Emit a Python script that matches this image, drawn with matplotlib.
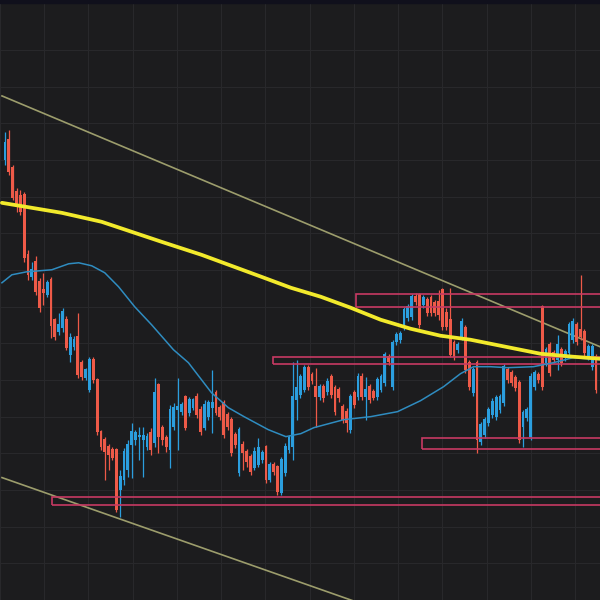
import numpy as np
import matplotlib.pyplot as plt
from matplotlib.patches import Rectangle

# candle data (open, close, high, low), one entry per bar
opens = [440, 460, 432, 408, 404, 405, 345, 323, 338, 318, 310, 305, 320, 280, 268, 272, 280, 245, 253, 263,
         237, 222, 210, 240, 220, 168, 160, 153, 150, 150, 110, 120, 130, 155, 160, 163, 160, 153, 167, 157,
         215, 172, 162, 150, 173, 190, 188, 203, 187, 192, 203, 190, 172, 183, 192, 207, 192, 197, 185, 180,
         165, 127, 155, 148, 143, 132, 135, 140, 153, 120, 135, 133, 107, 127, 150, 153, 200, 205, 210, 232,
         225, 213, 203, 213, 208, 223, 212, 210, 193, 188, 170, 207, 203, 223, 203, 213, 208, 203, 210, 217,
         243, 213, 258, 260, 273, 282, 283, 303, 305, 295, 300, 302, 297, 298, 310, 287, 280, 257, 250, 263,
         272, 237, 207, 237, 158, 165, 177, 185, 183, 190, 197, 230, 227, 222, 217, 173, 182, 163, 213, 225,
         293, 237, 255, 247, 240, 250, 242, 247, 260, 275, 270, 268, 243, 233, 243]
closes = [457, 428, 402, 393, 388, 342, 325, 330, 308, 292, 307, 317, 274, 263, 275, 288, 252, 262, 260, 225,
          223, 230, 240, 220, 168, 153, 148, 145, 142, 90, 123, 148, 155, 168, 167, 164, 164, 163, 150, 207,
          163, 160, 153, 190, 192, 193, 195, 172, 200, 200, 185, 168, 195, 197, 197, 187, 183, 165, 173, 147,
          155, 170, 147, 138, 128, 148, 152, 147, 120, 135, 128, 108, 140, 153, 162, 203, 212, 223, 232, 213,
          219, 203, 213, 202, 218, 205, 188, 202, 180, 177, 203, 195, 223, 203, 210, 200, 202, 220, 223, 245,
          238, 257, 265, 266, 290, 293, 303, 298, 275, 302, 287, 287, 287, 285, 273, 273, 245, 243, 255, 278,
          230, 213, 230, 160, 175, 180, 190, 198, 202, 203, 233, 220, 217, 212, 160, 187, 190, 223, 227, 220,
          213, 250, 227, 240, 255, 237, 248, 275, 278, 258, 263, 247, 253, 253, 210]
highs = [468, 470, 435, 412, 410, 408, 350, 338, 344, 322, 327, 320, 323, 282, 287, 292, 284, 267, 264, 287,
         240, 232, 243, 243, 222, 170, 163, 156, 153, 152, 130, 152, 160, 177, 170, 173, 173, 167, 172, 222,
         217, 175, 165, 195, 197, 222, 198, 205, 203, 202, 207, 194, 200, 200, 230, 210, 195, 200, 188, 183,
         168, 173, 159, 151, 146, 153, 162, 150, 155, 138, 138, 135, 143, 157, 165, 238, 240, 226, 235, 235,
         228, 232, 216, 216, 222, 226, 215, 213, 196, 192, 206, 210, 227, 227, 223, 216, 211, 223, 226, 248,
         246, 260, 268, 269, 293, 296, 306, 307, 307, 305, 303, 305, 300, 310, 312, 292, 312, 260, 258, 282,
         275, 240, 233, 240, 178, 183, 193, 202, 205, 206, 236, 233, 230, 225, 220, 190, 193, 227, 230, 228,
         295, 253, 258, 250, 265, 253, 251, 278, 282, 278, 325, 271, 256, 256, 246]
lows = [435, 425, 400, 388, 385, 338, 320, 320, 305, 288, 295, 303, 262, 260, 265, 268, 250, 238, 250, 222,
        220, 220, 208, 217, 165, 150, 120, 130, 140, 88, 83, 115, 123, 122, 155, 140, 123, 150, 145, 153,
        147, 155, 148, 132, 170, 150, 185, 170, 184, 190, 182, 165, 170, 180, 167, 185, 180, 162, 170, 144,
        152, 124, 130, 133, 125, 130, 133, 137, 117, 118, 125, 105, 105, 124, 147, 140, 180, 202, 208, 210,
        216, 173, 200, 198, 205, 202, 185, 198, 177, 168, 167, 192, 200, 200, 180, 197, 200, 200, 208, 214,
        235, 210, 255, 257, 270, 279, 280, 295, 272, 292, 284, 284, 284, 280, 270, 270, 243, 240, 247, 260,
        227, 210, 204, 147, 155, 162, 174, 182, 180, 187, 194, 217, 214, 209, 157, 153, 179, 160, 210, 217,
        210, 234, 224, 237, 230, 234, 239, 244, 257, 255, 260, 244, 240, 230, 207]

# slow moving average (yellow), read at sample bars
slow_ma_x = [-0.8, 7, 14.8, 25.2, 33, 40.8, 51.2, 59, 66.8, 74.5, 82.3, 90.1, 97.9, 105.7, 113.5, 121.3,
             129.1, 139.5, 148, 155.1]
slow_ma_y = [397, 392, 387, 378, 368, 358, 345, 334, 323, 312, 303, 292, 280, 271, 264, 260, 254, 246, 243, 241]

# fast moving average (blue)
fast_ma_x = [-0.8, 1.8, 5.7, 12.2, 16.6, 19.2, 22.6, 26, 29.6, 33.8, 38.2, 43.9, 47.8, 53.8, 58.2, 62.3,
             68.6, 73.2, 77.1, 80.5, 88.3, 95.3, 102.3, 108.3, 114.3, 118.7, 122.1, 126.5, 130.9, 137.7,
             142.9, 148, 155.1]
fast_ma_y = [317, 325, 328, 330, 336, 337, 334, 327, 313, 293, 275, 250, 237, 207, 192, 183, 170, 163, 166,
             172, 180, 183, 188, 199, 213, 226, 233, 233, 232, 233, 237, 242, 240]

# trend channel
upper_channel_x = [-0.78, 155.06]
upper_channel_y = [504, 253]
lower_channel_x = [-0.78, 155.06]
lower_channel_y = [122, -88]

# horizontal zones: start bar, bottom, top
zone_start = [91.4, 69.9, 108.6, 12.2]
zone_low = [293, 236, 151, 95]
zone_high = [306, 243, 162, 103]

bg = '#1c1c1e'
red = '#ee5a48'
blue = '#2b9ede'

fig = plt.figure(figsize=(6, 6), dpi=100)
fig.patch.set_facecolor(bg)
ax = fig.add_axes([0, 0, 1, 1])
ax.set_facecolor(bg)

n = len(opens)
x = np.arange(n)
o = np.array(opens)
c = np.array(closes)
colors = [blue if cc >= oo else red for oo, cc in zip(o, c)]

ax.vlines(x, lows, highs, colors=colors, linewidth=0.9, zorder=3)
ax.bar(x, np.abs(c - o) + 1.0, bottom=np.minimum(o, c) - 0.5, width=0.74, color=colors, linewidth=0, zorder=3)

ax.plot(upper_channel_x, upper_channel_y, color='#9c9d6c', linewidth=1.2, zorder=2)
ax.plot(lower_channel_x, lower_channel_y, color='#9c9d6c', linewidth=1.2, zorder=2)

for s, lo, hi in zip(zone_start, zone_low, zone_high):
    ax.add_patch(Rectangle((s, lo), 170 - s, hi - lo, fill=False, edgecolor='#c73a63', linewidth=1.2, zorder=4))

ax.plot(fast_ma_x, fast_ma_y, color='#2f8cc0', linewidth=1.1, zorder=5)
ax.plot(slow_ma_x, slow_ma_y, color='#f2ea2c', linewidth=2.7, zorder=6,
        solid_capstyle='round', solid_joinstyle='round')

ax.set_xlim(-0.78, 155.06)
ax.set_ylim(0, 600)
ax.set_xticks(np.arange(-1.3, 156, 11.53))
ax.set_yticks(600 - np.arange(50, 601, 36.7))
ax.grid(True, color='#28282b', linewidth=0.8)
ax.tick_params(length=0, labelbottom=False, labelleft=False)
for sp in ax.spines.values():
    sp.set_visible(False)
ax.set_axisbelow(True)

fig.patches.append(Rectangle((0, 1 - 3 / 600), 1, 3 / 600, transform=fig.transFigure,
                             color='#10101c', zorder=10))

fig.savefig('out.png', dpi=100, facecolor=bg)
